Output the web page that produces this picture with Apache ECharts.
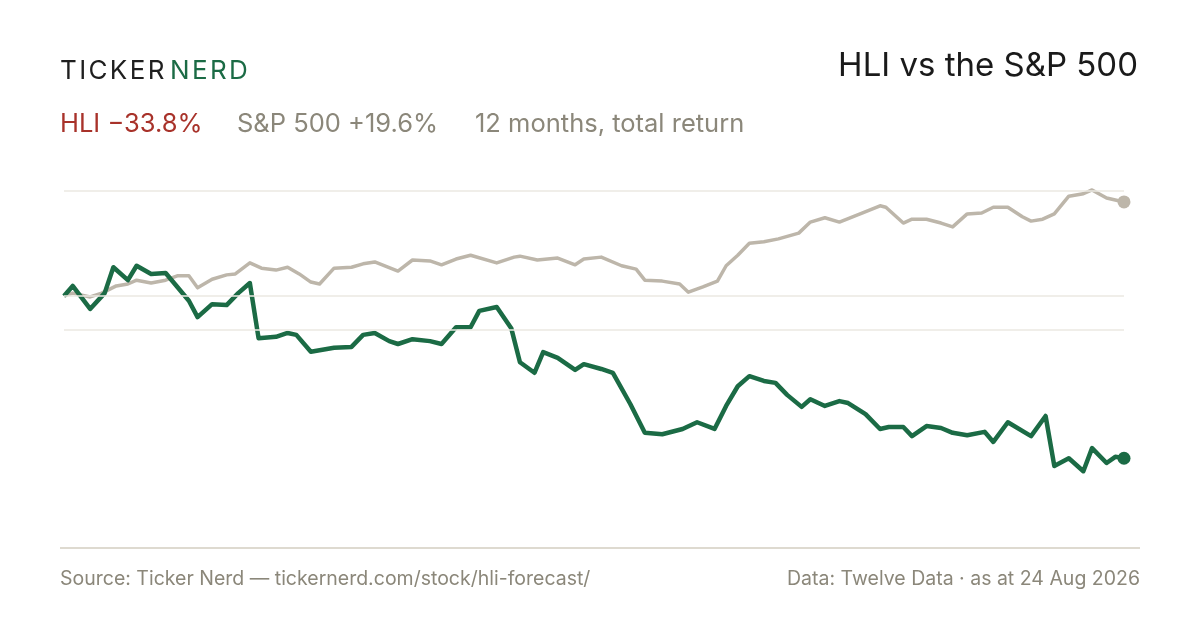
<!DOCTYPE html>
<html>
<head>
<meta charset="utf-8">
<script src="https://cdn.jsdelivr.net/npm/echarts@6/dist/echarts.min.js"></script>
<style>
  html, body { margin: 0; padding: 0; background: #fff; }
  #main { width: 1200px; height: 630px; }
</style>
</head>
<body>
<div id="main"></div>
<script>
// calendar day since start (24 Aug 2025) and total return in %
var hliDays = [0, 3, 9, 14, 17, 22, 25, 30, 35, 43, 46, 51, 56, 60, 64, 67, 73, 77, 80, 85,
  93, 99, 103, 107, 112, 115, 120, 126, 130, 135, 140, 143, 149, 154, 157, 162, 165, 170, 176, 179,
  185, 189, 195, 200, 206, 213, 218, 224, 228, 232, 236, 241, 245, 249, 254, 257, 262, 267, 270, 276,
  281, 284, 289, 292, 297, 302, 306, 311, 317, 320, 325, 333, 338, 341, 346, 351, 354, 359, 362, 365];
var hliReturn = [0, 2.1, -2.7, 0.6, 6.0, 3.3, 6.3, 4.6, 4.8, -1.0, -4.4, -1.7, -1.9, 0.6, 2.7, -8.8, -8.5, -7.7, -8.1, -11.6,
  -10.8, -10.6, -8.1, -7.7, -9.4, -10.0, -9.0, -9.4, -10.0, -6.5, -6.5, -3.1, -2.3, -6.7, -13.8, -16.0, -11.7, -12.9, -15.4, -14.2,
  -15.2, -16.0, -22.5, -28.5, -28.8, -27.7, -26.3, -27.7, -22.9, -18.8, -16.7, -17.7, -18.1, -20.6, -23.1, -21.5, -22.9, -21.9, -22.3, -24.6,
  -27.7, -27.3, -27.3, -29.2, -27.1, -27.5, -28.5, -29.0, -28.3, -30.4, -26.3, -29.2, -25.0, -35.4, -33.8, -36.5, -31.7, -34.8, -33.5, -33.8];

var spxDays = [0, 3, 9, 13, 18, 22, 25, 30, 35, 39, 43, 46, 51, 56, 59, 64, 68, 73, 77, 81,
  85, 88, 93, 99, 103, 107, 115, 120, 126, 130, 135, 140, 149, 155, 157, 163, 170, 176, 179, 185,
  192, 197, 200, 206, 212, 215, 220, 225, 228, 232, 236, 241, 246, 253, 257, 262, 267, 275, 281, 283,
  289, 292, 297, 302, 306, 311, 316, 320, 325, 330, 333, 337, 341, 346, 351, 354, 359, 365];
var spxReturn = [0, 0.6, -0.2, 0.6, 2.1, 2.5, 3.3, 2.7, 3.3, 4.2, 4.2, 1.7, 3.5, 4.4, 4.6, 6.9, 5.8, 5.4, 6.0, 4.6,
  2.9, 2.5, 5.8, 6.0, 6.7, 7.1, 5.2, 7.5, 7.3, 6.5, 7.7, 8.5, 6.9, 8.1, 8.3, 7.5, 7.9, 6.5, 7.7, 8.1,
  6.3, 5.6, 3.3, 3.1, 2.5, 0.8, 1.9, 3.1, 6.3, 8.5, 11.0, 11.3, 11.9, 13.1, 15.4, 16.3, 15.4, 17.3, 18.8, 18.5,
  15.2, 16.0, 16.0, 15.2, 14.4, 17.1, 17.3, 18.5, 18.5, 16.5, 15.6, 16.0, 17.1, 20.8, 21.3, 22.1, 20.4, 19.6];

var gridLevels = [22, 0, -7];

var GREEN = '#1b6b45';
var SAND = '#bdb6aa';
var MUTED = '#8b877a';
var RED = '#a8322a';

function pairs(xs, ys) {
  return xs.map(function (d, i) { return [d, ys[i]]; });
}

var chart = echarts.init(document.getElementById('main'));

chart.setOption({
  backgroundColor: '#ffffff',
  animation: false,
  textStyle: { fontFamily: 'Inter' },
  grid: { left: 64, right: 76, top: 176, height: 360 },
  xAxis: {
    type: 'value', min: 0, max: 365,
    axisLine: { show: false }, axisTick: { show: false },
    axisLabel: { show: false }, splitLine: { show: false }
  },
  yAxis: {
    type: 'value', min: -50, max: 25,
    axisLine: { show: false }, axisTick: { show: false },
    axisLabel: { show: false }, splitLine: { show: false }
  },
  graphic: [
    { type: 'text', left: 60, top: 58,
      style: { text: 'T\u200aI\u200aC\u200aK\u200aE\u200aR', font: '400 26px Inter', fill: '#1f1f1f' } },
    { type: 'text', left: 170, top: 58,
      style: { text: 'N\u200aE\u200aR\u200aD', font: '400 26px Inter', fill: GREEN } },
    { type: 'text', right: 62, top: 50,
      style: { text: 'HLI vs the S&P 500', font: '400 33px Inter', fill: '#1a1a1a' } },
    { type: 'text', left: 60, top: 111,
      style: { text: 'HLI \u221233.8%', font: '400 25.5px Inter', fill: RED } },
    { type: 'text', left: 237, top: 111,
      style: { text: 'S&P 500 +19.6%', font: '400 25.5px Inter', fill: MUTED } },
    { type: 'text', left: 475, top: 111,
      style: { text: '12 months, total return', font: '400 25.5px Inter', fill: MUTED } },
    { type: 'line', shape: { x1: 60, y1: 548, x2: 1140, y2: 548 },
      style: { stroke: '#dedad0', lineWidth: 2 } },
    { type: 'text', left: 60, top: 569,
      style: { text: 'Source: Ticker Nerd \u2014 tickernerd.com/stock/hli-forecast/', font: '400 19.5px Inter', fill: MUTED } },
    { type: 'text', right: 60, top: 569,
      style: { text: 'Data: Twelve Data \u00b7 as at 24 Aug 2026', font: '400 19.5px Inter', fill: MUTED } }
  ],
  series: [
    {
      name: 'S&P 500', type: 'line', data: pairs(spxDays, spxReturn),
      showSymbol: false, z: 2,
      lineStyle: { color: SAND, width: 3.5, join: 'round' },
      markLine: {
        silent: true, symbol: 'none', label: { show: false },
        lineStyle: { color: '#ebe8e2', width: 1.5, type: 'solid' },
        data: gridLevels.map(function (v) { return { yAxis: v }; })
      }
    },
    {
      name: 'HLI', type: 'line', data: pairs(hliDays, hliReturn),
      showSymbol: false, z: 3,
      lineStyle: { color: GREEN, width: 4.5, join: 'round' }
    },
    {
      type: 'scatter', z: 4, symbolSize: 13,
      data: [
        { value: [spxDays[spxDays.length - 1], spxReturn[spxReturn.length - 1]], itemStyle: { color: SAND, opacity: 1 } },
        { value: [hliDays[hliDays.length - 1], hliReturn[hliReturn.length - 1]], itemStyle: { color: GREEN, opacity: 1 } }
      ]
    }
  ]
});
</script>
</body>
</html>
